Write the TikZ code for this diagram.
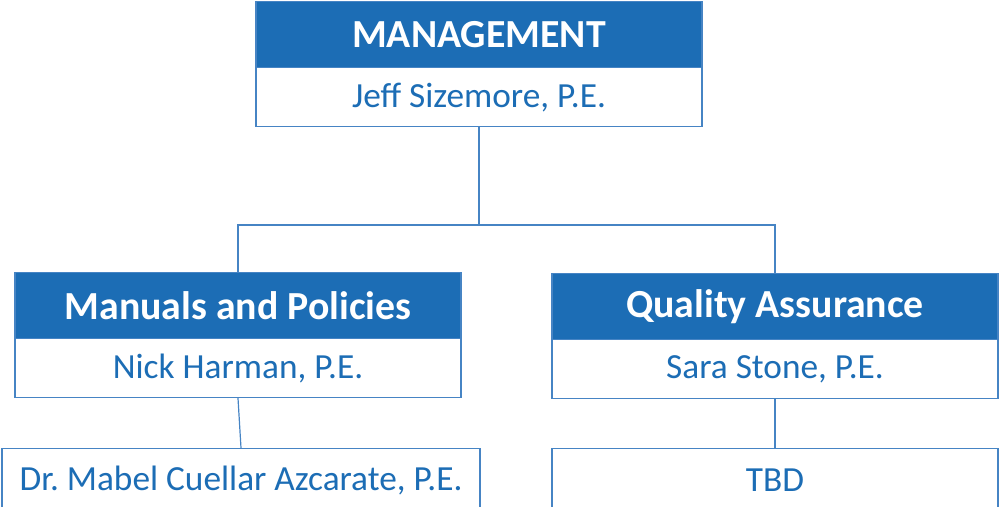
\documentclass[tikz,border=0pt]{standalone}
\usepackage{fontspec}
\setmainfont{Carlito}
\frenchspacing
\definecolor{hdblue}{RGB}{28,109,181}
\definecolor{lnblue}{RGB}{70,132,196}
\begin{document}
\begin{tikzpicture}[x=1pt,y=-1pt,
  hdr/.style={fill=hdblue, draw=lnblue, line width=1.2pt, minimum width=446pt, minimum height=66pt,
    inner sep=0pt, text=white, font=\fontsize{39.8}{42}\selectfont\bfseries, anchor=north},
  body/.style={fill=white, draw=lnblue, line width=1.2pt, minimum width=446pt, minimum height=59pt,
    inner sep=0pt, text=hdblue, font=\fontsize{35.3}{38}\selectfont, anchor=north},
  conn/.style={draw=lnblue, line width=1.2pt}]
\useasboundingbox (0,0) rectangle (1000,506);
\clip (0,0) rectangle (1000,506);
% management
\node[hdr] (mh) at (479,1) {MANAGEMENT};
\node[body] (mb) at (479,67) {Jeff Sizemore, P.E.};
% manuals
\node[hdr] (lh) at (238,272) {Manuals and Policies};
\node[body] (lb) at (238,338) {Nick Harman, P.E.};
% quality
\node[hdr] (rh) at (775,273) {Quality Assurance};
\node[body] (rb) at (775,339) {Sara Stone, P.E.};
% bottom
\node[body, minimum width=478pt, minimum height=64pt] (bl) at (241,448) {Dr. Mabel Cuellar Azcarate, P.E.};
\node[body, minimum height=64pt] (br) at (775,448) {TBD};
% connectors
\coordinate (bus) at (479,225);
\draw[conn] (mb.south) -- (bus);
\draw[conn] (lh.north) |- (bus) -| (rh.north);
\draw[conn] (lb.south) -- (bl.north);
\draw[conn] (rb.south) -- (br.north);
\end{tikzpicture}
\end{document}
